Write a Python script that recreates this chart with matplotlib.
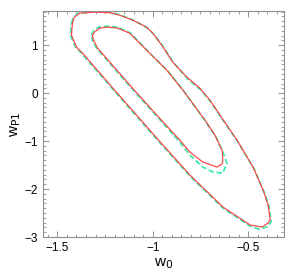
import matplotlib
matplotlib.use("Agg")
import matplotlib.pyplot as plt
from matplotlib.ticker import MultipleLocator

# Red (solid) contours
red_outer_x = [-1.421, -1.411, -1.384, -1.305, -1.226, -1.174, -1.105, -1.032, -1.000, -0.953, -0.895, -0.821, -0.753, -0.700, -0.637, -0.558, -0.474, -0.421, -0.395, -0.384, -0.395, -0.426, -0.489, -0.632, -0.805, -0.979, -1.200, -1.368, -1.400, -1.426, -1.421]
red_outer_y = [1.458, 1.583, 1.667, 1.6875, 1.677, 1.625, 1.521, 1.375, 1.25, 1.0, 0.646, 0.333, 0.104, -0.146, -0.521, -0.979, -1.542, -2.021, -2.333, -2.646, -2.708, -2.792, -2.75, -2.375, -1.708, -0.9375, 0.0625, 0.833, 0.958, 1.208, 1.458]
red_inner_x = [-1.316, -1.305, -1.279, -1.237, -1.184, -1.121, -1.016, -0.926, -0.842, -0.726, -0.674, -0.637, -0.632, -0.637, -0.663, -0.737, -0.805, -0.858, -0.979, -1.111, -1.289, -1.311, -1.316]
red_inner_y = [1.208, 1.271, 1.354, 1.375, 1.354, 1.25, 0.833, 0.479, 0.0625, -0.5625, -0.875, -1.1875, -1.396, -1.479, -1.542, -1.4375, -1.229, -0.979, -0.458, 0.125, 0.9375, 1.104, 1.208]

# Green (dashed) contours
green_outer_x = [-1.426, -1.416, -1.389, -1.305, -1.226, -1.168, -1.100, -1.026, -0.995, -0.947, -0.889, -0.816, -0.747, -0.695, -0.632, -0.553, -0.468, -0.416, -0.389, -0.379, -0.400, -0.447, -0.489, -0.632, -0.805, -0.984, -1.205, -1.374, -1.405, -1.432, -1.426]
green_outer_y = [1.458, 1.583, 1.667, 1.698, 1.6875, 1.625, 1.521, 1.354, 1.229, 0.979, 0.625, 0.292, 0.0625, -0.1875, -0.5625, -1.021, -1.583, -2.0625, -2.375, -2.6875, -2.79, -2.833, -2.771, -2.396, -1.729, -0.9375, 0.0625, 0.833, 0.958, 1.208, 1.458]
green_inner_x = [-1.321, -1.311, -1.284, -1.242, -1.184, -1.116, -1.011, -0.921, -0.837, -0.721, -0.668, -0.632, -0.611, -0.632, -0.684, -0.737, -0.805, -0.858, -0.979, -1.111, -1.295, -1.316, -1.321]
green_inner_y = [1.208, 1.292, 1.375, 1.396, 1.375, 1.25, 0.8125, 0.458, 0.042, -0.604, -0.917, -1.229, -1.458, -1.667, -1.646, -1.542, -1.292, -1.021, -0.479, 0.104, 0.9375, 1.104, 1.208]

x_ticks = [-1.5, -1, -0.5]
x_ticklabels = ["\u22121.5", "\u22121", "\u22120.5"]
y_ticks = [-3, -2, -1, 0, 1]
y_ticklabels = ["\u22123", "\u22122", "\u22121", "0", "1"]

plt.rcParams['font.family'] = ['Liberation Sans', 'DejaVu Sans']

fig = plt.figure(figsize=(3.0, 2.77), dpi=100)
ax = fig.add_axes([0.143, 0.1444, 0.804, 0.8156])

red = '#ff3a3a'
green = '#40eaa8'
ax.plot(green_outer_x, green_outer_y, color=green, lw=1.3, ls=(0, (3, 1.5)))
ax.plot(green_inner_x, green_inner_y, color=green, lw=1.3, ls=(0, (3, 1.5)))
ax.plot(red_outer_x, red_outer_y, color=red, lw=0.8)
ax.plot(red_inner_x, red_inner_y, color=red, lw=0.8)

ax.set_xlim(-1.576, -0.311)
ax.set_ylim(-3.0, 1.71)
ax.set_xticks(x_ticks)
ax.set_xticklabels(x_ticklabels)
ax.set_yticks(y_ticks)
ax.set_yticklabels(y_ticklabels)
ax.xaxis.set_minor_locator(MultipleLocator(0.05))
ax.yaxis.set_minor_locator(MultipleLocator(0.1))
ax.tick_params(which='both', direction='in', top=True, right=True, color='#909090', labelsize=8.5)
ax.tick_params(which='major', length=4, width=0.7)
ax.tick_params(which='minor', length=2, width=0.6)
for s in ax.spines.values():
    s.set_color('#909090')
    s.set_linewidth(0.8)

ax.set_xlabel(r"w$_0$", fontsize=11, labelpad=2)
ax.set_ylabel(r"w$_{\rm P1}$", fontsize=11, labelpad=1)

fig.savefig("out.png", dpi=100)
